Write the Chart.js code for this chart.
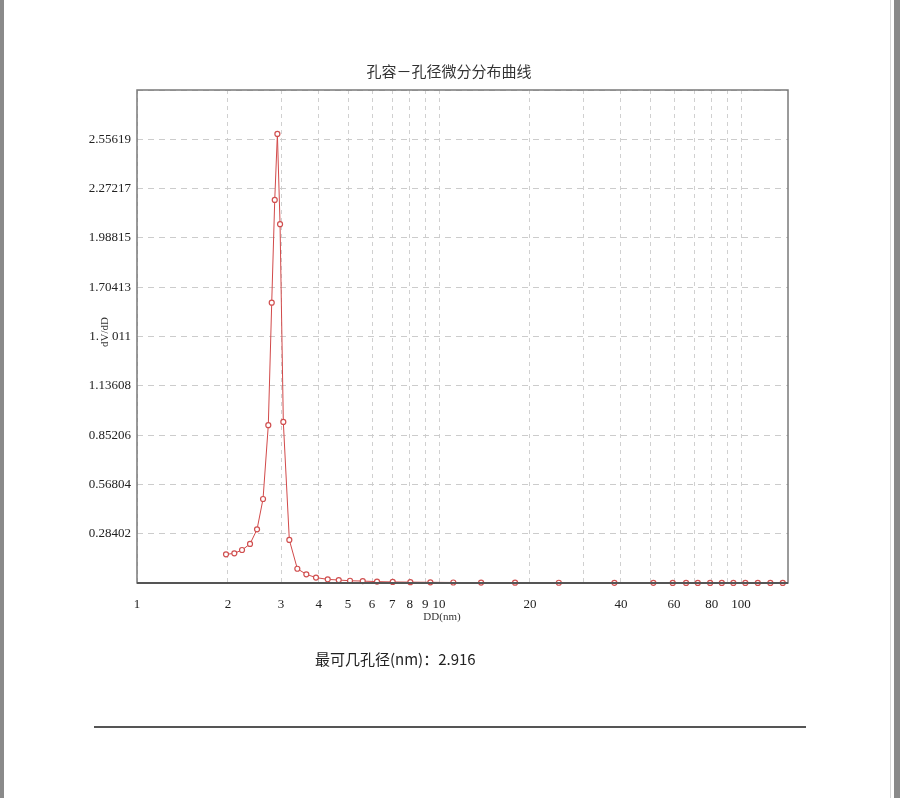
<!DOCTYPE html>
<html>
<head>
<meta charset="utf-8">
<script src="https://cdn.jsdelivr.net/npm/chart.js@4"></script>
<style>
  html, body { margin: 0; padding: 0; background: #fff; }
  #wrap { width: 900px; height: 798px; position: relative; }
</style>
</head>
<body>
<div id="wrap"><canvas id="chart"></canvas></div>
<script>
// pore diameter (nm) and dV/dD
const poreDiameter = [1.971, 2.100, 2.227, 2.367, 2.497, 2.614, 2.721, 2.793, 2.858, 2.916,
  2.976, 3.051, 3.194, 3.395, 3.636, 3.914, 4.280, 4.655, 5.073, 5.590,
  6.232, 7.025, 8.035, 9.359, 11.15, 13.78, 17.85, 24.92, 38.07, 51.24,
  59.39, 65.75, 71.89, 78.98, 86.33, 94.29, 103.3, 113.6, 125.0, 137.4];
const dVdD = [0.165, 0.171, 0.190, 0.225, 0.309, 0.484, 0.909, 1.615, 2.207, 2.587,
  2.067, 0.928, 0.248, 0.082, 0.050, 0.031, 0.021, 0.017, 0.013, 0.011,
  0.008, 0.006, 0.005, 0.004, 0.003, 0.0025, 0.002, 0.0015, 0.001, 0.0008,
  0.0007, 0.0006, 0.0005, 0.0005, 0.0004, 0.0004, 0.0003, 0.0003, 0.0003, 0.0002];

const xGridValues = [1, 2, 3, 4, 5, 6, 7, 8, 9, 10, 20, 30, 40, 50, 60, 70, 80, 90, 100];
const xTickLabels = [1, 2, 3, 4, 5, 6, 7, 8, 9, 10, 20, 40, 60, 80, 100];
const yGridValues = [0, 0.28402, 0.56804, 0.85206, 1.13608, 1.42011, 1.70413, 1.98815, 2.27217, 2.55619, 2.84020];
const yTickLabels = ["", "0.28402", "0.56804", "0.85206", "1.13608", "1.42011", "1.70413", "1.98815", "2.27217", "2.55619", ""];

const chartTitle = "孔容－孔径微分分布曲线";
const xTitle = "DD(nm)";
const yTitle = "dV/dD";
const peakText = "最可几孔径(nm)：2.916";

const serif = "'Liberation Serif', 'DejaVu Serif', serif";
const cjk = "'Noto Sans CJK SC', sans-serif";

const decor = {
  id: "decor",
  beforeDraw(chart) {
    const ctx = chart.ctx;
    ctx.save();
    ctx.fillStyle = "#fff";
    ctx.fillRect(0, 0, chart.width, chart.height);
    ctx.fillStyle = "#8a8a8a";
    ctx.fillRect(0, 0, 4, chart.height);
    ctx.fillRect(894, 0, 6, chart.height);
    ctx.fillStyle = "#d8d8d8";
    ctx.fillRect(890, 0, 1, chart.height);
    ctx.restore();
  },
  afterDraw(chart) {
    const ctx = chart.ctx;
    const a = chart.chartArea;
    ctx.save();
    // frame
    ctx.strokeStyle = "#7a7a7a";
    ctx.lineWidth = 1.5;
    ctx.strokeRect(a.left, a.top, a.right - a.left, a.bottom - a.top);
    ctx.strokeStyle = "#555";
    ctx.lineWidth = 2;
    ctx.beginPath();
    ctx.moveTo(a.left, a.bottom);
    ctx.lineTo(a.right, a.bottom);
    ctx.stroke();

    // title
    ctx.fillStyle = "#333";
    ctx.font = "15px " + cjk;
    ctx.textAlign = "center";
    ctx.textBaseline = "middle";
    ctx.fillText(chartTitle, 449, 71);

    // x axis title
    ctx.font = "11px " + serif;
    ctx.fillText(xTitle, 442, 617);

    // y axis title, with white box over part of the tick label like the original
    ctx.fillStyle = "#fff";
    ctx.fillRect(98.5, 316, 13, 36);
    ctx.save();
    ctx.translate(105, 332);
    ctx.rotate(-Math.PI / 2);
    ctx.fillStyle = "#333";
    ctx.font = "11px " + serif;
    ctx.fillText(yTitle, 0, 0);
    ctx.restore();

    // most probable pore size
    ctx.fillStyle = "#222";
    ctx.font = "15px " + cjk;
    ctx.textAlign = "left";
    ctx.fillText(peakText, 315, 659);

    // rule under the chart
    ctx.strokeStyle = "#555";
    ctx.lineWidth = 2;
    ctx.beginPath();
    ctx.moveTo(94, 727);
    ctx.lineTo(806, 727);
    ctx.stroke();
    ctx.restore();
  }
};

new Chart(document.getElementById("chart"), {
  type: "line",
  data: {
    datasets: [
      {
        label: yTitle,
        data: poreDiameter.map((d, i) => ({ x: d, y: dVdD[i] })),
        borderColor: "#d24a4a",
        borderWidth: 1,
        backgroundColor: "#fff",
        pointBorderColor: "#d04f4f",
        pointBackgroundColor: "#fff",
        pointRadius: 2.5,
        pointBorderWidth: 1.2,
        tension: 0,
        clip: false
      }
    ]
  },
  options: {
    responsive: true,
    maintainAspectRatio: false,
    animation: false,
    layout: { padding: { left: 0, right: 112, top: 90, bottom: 175 } },
    plugins: {
      legend: { display: false },
      tooltip: { enabled: false },
      title: { display: false }
    },
    scales: {
      x: {
        type: "logarithmic",
        min: 1,
        max: 143,
        afterBuildTicks: (s) => { s.ticks = xGridValues.map(v => ({ value: v })); },
        afterFit: (s) => { s.height = 40; },
        grid: { color: "#d0d0d0", lineWidth: 1, drawTicks: false },
        border: { display: false, dash: [4, 4] },
        ticks: {
          autoSkip: false,
          maxRotation: 0,
          padding: 14,
          color: "#222",
          font: { family: serif, size: 13 },
          callback: (v) => xTickLabels.includes(v) ? String(v) : ""
        }
      },
      y: {
        min: 0,
        max: 2.8402,
        afterBuildTicks: (s) => { s.ticks = yGridValues.map(v => ({ value: v })); },
        afterFit: (s) => { s.width = 137; },
        grid: { color: "#cccccc", lineWidth: 1, drawTicks: false },
        border: { display: false, dash: [6, 5] },
        ticks: {
          autoSkip: false,
          padding: 6,
          color: "#222",
          font: { family: serif, size: 13 },
          callback: (v, i) => yTickLabels[i] || ""
        }
      }
    }
  },
  plugins: [decor]
});
</script>
</body>
</html>
